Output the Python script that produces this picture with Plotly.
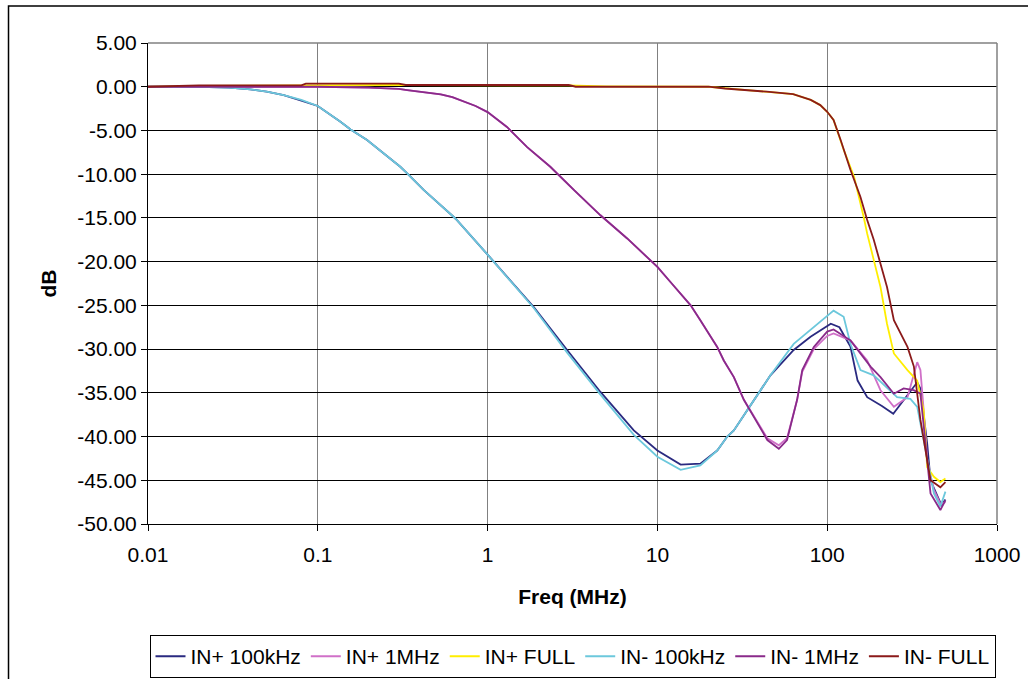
import plotly.graph_objects as go

# ---------------- data (frequency in MHz, gain in dB) ----------------
inp_100k_f = [0.01, 0.02, 0.03, 0.04, 0.05, 0.063, 0.08, 0.1, 0.136, 0.156, 0.195, 0.306, 0.336, 0.42,
              0.632, 0.66, 1.0, 1.87, 2.94, 4.62, 7.26, 10, 13.7, 17.9, 22.5, 25.8, 28.2, 33.8, 46.3,
              63.5, 79.8, 105, 118, 137, 151, 172, 210, 245, 290, 339, 354, 388, 406, 440, 470, 497]
inp_100k_db = [0, 0, -0.1, -0.3, -0.55, -0.95, -1.6, -2.2, -4.0, -4.9, -6.1, -9.15, -9.9, -11.8,
               -14.9, -15.25, -19.2, -25.2, -30.1, -34.9, -39.3, -41.6, -43.2, -43.1, -41.6, -40.0, -39.3, -37.0, -33.0,
               -30.1, -28.6, -27.1, -27.5, -29.7, -33.6, -35.5, -36.5, -37.4, -35.5, -33.8, -34.5, -40.8, -45.0, -46.5, -47.8, -47.2]

inp_1m_f = [0.01, 0.1, 0.2, 0.3, 0.336, 0.53, 0.62, 0.76, 0.85, 1.0, 1.14, 1.3, 1.71, 2.34, 3.22, 4.62, 6.64,
            10, 11.9, 15.7, 17.9, 22.5, 24.6, 28.2, 32.3, 44.4, 51.9, 58, 66.5, 71.3, 83.4, 100, 109, 137,
            172, 206, 247, 297, 339, 354, 370, 388, 425, 464, 497]
inp_1m_db = [0, 0, -0.1, -0.25, -0.38, -0.87, -1.2, -1.83, -2.2, -2.9, -3.8, -4.6, -6.9, -9.15, -11.8, -14.7, -17.35,
             -20.6, -22.3, -25.0, -26.7, -29.75, -31.3, -33.2, -35.8, -40.2, -41.0, -40.2, -35.8, -32.6, -30.0, -28.5, -28.2, -29.0,
             -31.3, -34.7, -36.6, -35.5, -31.5, -32.4, -37.0, -42.7, -46.1, -47.7, -47.5]

inp_full_f = [0.01, 0.02, 0.08, 0.3, 3.0, 5.0, 20, 30, 44, 63, 80, 91, 100, 109, 125, 144, 164, 172, 188,
              206, 225, 247, 297, 339, 370, 388, 425, 464, 497]
inp_full_db = [0, 0.1, 0.15, 0.2, 0.15, 0.05, 0, -0.3, -0.55, -0.84, -1.5, -2.1, -2.86, -3.8, -7.2, -10.3, -14.9, -16.8, -19.8,
               -22.9, -27.1, -30.5, -32.4, -33.6, -37.0, -43.5, -44.6, -45.2, -44.8]

inm_100k_f = [0.01, 0.02, 0.03, 0.04, 0.05, 0.063, 0.08, 0.1, 0.136, 0.156, 0.195, 0.306, 0.336, 0.42,
              0.632, 0.66, 1.0, 1.87, 2.94, 4.62, 7.26, 10, 13.7, 17.9, 22.5, 25.8, 28.2, 33.8, 46.3,
              63.5, 87.3, 109, 125, 137, 157, 188, 258, 309, 339, 388, 425, 464, 497]
inm_100k_db = [0, 0, -0.1, -0.3, -0.55, -0.95, -1.5, -2.2, -4.0, -4.9, -6.1, -9.15, -9.9, -11.8,
               -14.9, -15.25, -19.2, -25.3, -30.4, -35.2, -39.8, -42.3, -43.8, -43.3, -41.6, -40.0, -39.3, -37.0, -33.0,
               -29.4, -27.1, -25.6, -26.3, -29.4, -32.4, -33.0, -35.5, -35.7, -36.6, -42.7, -46.5, -48.0, -46.3]

inm_1m_f = [0.01, 0.1, 0.2, 0.3, 0.336, 0.53, 0.62, 0.76, 0.85, 1.0, 1.14, 1.3, 1.71, 2.34, 3.22, 4.62, 6.64,
            10, 11.9, 15.7, 17.9, 22.5, 24.6, 28.2, 32.3, 44.4, 51.9, 58, 66.5, 71.3, 83.4, 100, 109, 137,
            180, 206, 247, 282, 323, 354, 388, 406, 464, 497]
inm_1m_db = [0, 0, -0.1, -0.25, -0.38, -0.87, -1.2, -1.83, -2.2, -2.9, -3.8, -4.6, -6.9, -9.15, -11.8, -14.7, -17.35,
             -20.6, -22.3, -25.0, -26.7, -29.75, -31.3, -33.2, -35.8, -40.4, -41.4, -40.4, -35.8, -32.4, -29.75, -28.0, -27.75, -29.0,
             -32.0, -33.2, -35.1, -34.5, -34.7, -35.1, -42.7, -46.5, -48.4, -47.3]

inm_full_f = [0.01, 0.02, 0.08, 0.085, 0.3, 0.33, 3.0, 3.3, 20, 25, 44, 63, 80, 91, 100, 109, 120, 137, 157,
              172, 188, 206, 225, 247, 297, 324, 354, 388, 406, 464, 497]
inm_full_db = [0, 0.15, 0.15, 0.35, 0.35, 0.2, 0.2, 0.0, 0, -0.2, -0.57, -0.84, -1.5, -2.1, -2.86, -3.8, -6.1, -9.5, -12.6,
               -15.25, -17.5, -20.2, -22.9, -26.7, -29.75, -32.0, -38.1, -42.7, -45.0, -45.8, -45.2]

series_names = ["IN+ 100kHz", "IN+ 1MHz", "IN+ FULL", "IN- 100kHz", "IN- 1MHz", "IN- FULL"]
series_colors = ["#2a2a80", "#d070c8", "#ffee00", "#6cc8dc", "#8a2a8a", "#8b1a1a"]

x_tick_vals = [0.01, 0.1, 1, 10, 100, 1000]
x_tick_text = ["0.01", "0.1", "1", "10", "100", "1000"]
y_tick_vals = [5, 0, -5, -10, -15, -20, -25, -30, -35, -40, -45, -50]
y_tick_text = ["5.00", "0.00", "-5.00", "-10.00", "-15.00", "-20.00", "-25.00",
               "-30.00", "-35.00", "-40.00", "-45.00", "-50.00"]

# ---------------- figure ----------------
xs = [inp_100k_f, inp_1m_f, inp_full_f, inm_100k_f, inm_1m_f, inm_full_f]
ys = [inp_100k_db, inp_1m_db, inp_full_db, inm_100k_db, inm_1m_db, inm_full_db]

fig = go.Figure()
for name, color, x, y in zip(series_names, series_colors, xs, ys):
    fig.add_trace(go.Scatter(x=x, y=y, mode="lines", name=name,
                             line=dict(color=color, width=1.8)))

FONT = "Liberation Sans, Arial, sans-serif"

fig.update_layout(
    template="none",
    width=1028, height=679,
    margin=dict(l=147.5, r=31.3, t=43, b=155, autoexpand=False),
    paper_bgcolor="white", plot_bgcolor="white",
    font=dict(family=FONT, size=21, color="black"),
    showlegend=True,
    legend=dict(orientation="h", x=0.5, xanchor="center", y=-0.231, yanchor="top",
                bordercolor="black", borderwidth=1, font=dict(size=21),
                bgcolor="white", itemwidth=30, tracegroupgap=0),
    xaxis=dict(type="log", range=[-2, 3], tickvals=x_tick_vals, ticktext=x_tick_text,
               automargin=False,
               showgrid=True, gridcolor="#808080", gridwidth=1,
               showline=True, linecolor="black", linewidth=1,
               ticks="outside", ticklen=6, tickcolor="black",
               ticklabelstandoff=6,
               tickfont=dict(size=21), zeroline=False,
               title=dict(text="<b>Freq (MHz)</b>", font=dict(size=21), standoff=24)),
    yaxis=dict(range=[-50, 5], tickvals=y_tick_vals, ticktext=y_tick_text,
               automargin=False,
               showgrid=True, gridcolor="black", gridwidth=1,
               showline=True, linecolor="black", linewidth=1,
               ticks="outside", ticklen=6, tickcolor="black",
               tickfont=dict(size=21), zeroline=False,
               title=dict(text="<b>dB</b>", font=dict(size=21), standoff=14)),
    shapes=[
        # plot-area border (top and right, gray)
        dict(type="line", xref="paper", yref="paper", x0=0, x1=1, y0=1, y1=1,
             line=dict(color="#808080", width=1.5)),
        dict(type="line", xref="paper", yref="paper", x0=1, x1=1, y0=0, y1=1,
             line=dict(color="#808080", width=1.5)),
        # outer chart-area border
        dict(type="rect", xref="paper", yref="paper", x0=-0.1643, x1=1.1, y0=-0.5, y1=1.0769,
             line=dict(color="black", width=1.5), layer="below"),
    ],
)

fig.write_html("out.html",
               config={"displayModeBar": False},
               post_script="document.body.style.margin='0';document.body.style.overflow='hidden';")
